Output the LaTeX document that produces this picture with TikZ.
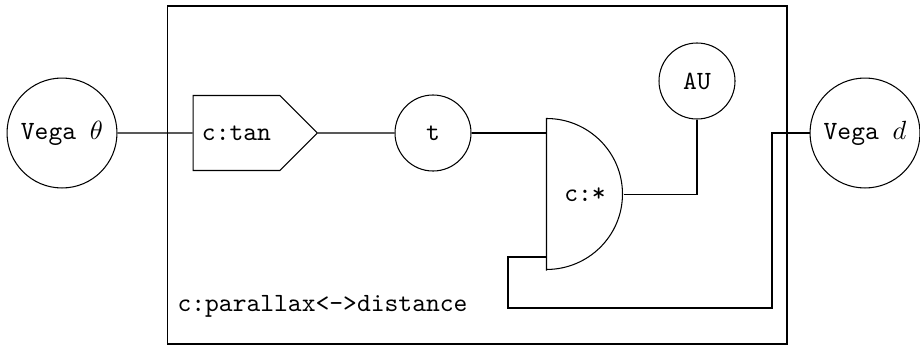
\documentclass[tikz,border=0pt]{standalone}
\usepackage{amsmath}
\usepackage{tikz}
\usetikzlibrary{
  positioning,
  shapes.symbols,
  calc
}
\tikzset{
  every node/.style={inner sep=2pt}
}

\begin{document}
\begin{tikzpicture}[
    x=0.3802pt, y=-0.3802pt,
    font=\ttfamily,
    ext/.style={circle, draw, line width=0.4pt, minimum size=41.8pt, inner sep=1pt},
    var/.style={circle, draw, line width=0.4pt, minimum size=28.9pt, inner sep=1pt},
    fn/.style={signal, signal to=east, signal pointer angle=90, draw, line width=0.4pt, minimum height=28.5pt, inner xsep=3.4pt},
    mult/.style={rectangle, minimum width=28.9pt, minimum height=57.4pt, inner sep=0pt},
    wire/.style={draw, line width=0.4pt}
]
    \useasboundingbox (0,0) rectangle (920,346);

    % the compound constraint
    \node[draw, line width=0.4pt, minimum width=235.7pt, minimum height=128.5pt] (net) at (477,175) {};
    \node[anchor=west, inner sep=0pt] (netlabel) at (177,306) {c:parallax<->distance};

    \node[ext] (vtheta) at (62,133) {Vega $\theta$};
    \node[ext] (vegad) at (865,133) {Vega $d$};

    \node[fn] (tan) at (236.5,133) {c:tan};
    \node[var] (t) at (433,133) {t};
    \node[var] (au) at (697,81) {AU};

    % product, drawn as a D
    \node[mult] (mul) at (585,194.5) {c:*};
    \draw[line width=0.4pt] (mul.south west) -- (mul.north west)
        arc[start angle=90, end angle=-90, x radius=28.9pt, y radius=28.7pt];

    \coordinate (fbout) at (mul.west |- 0,257);
    \coordinate (loopA) at (508,308);
    \coordinate (loopB) at (772,308);

    \draw[wire] (vtheta) -- (tan);
    \draw[wire] (tan) -- (t);
    \draw[wire] (t) -- (t -| mul.west);
    \draw[wire] (mul.east) -| (au);
    \draw[wire] (fbout) -| (loopA) -- (loopB) |- (vegad.west);

\end{tikzpicture}
\end{document}
